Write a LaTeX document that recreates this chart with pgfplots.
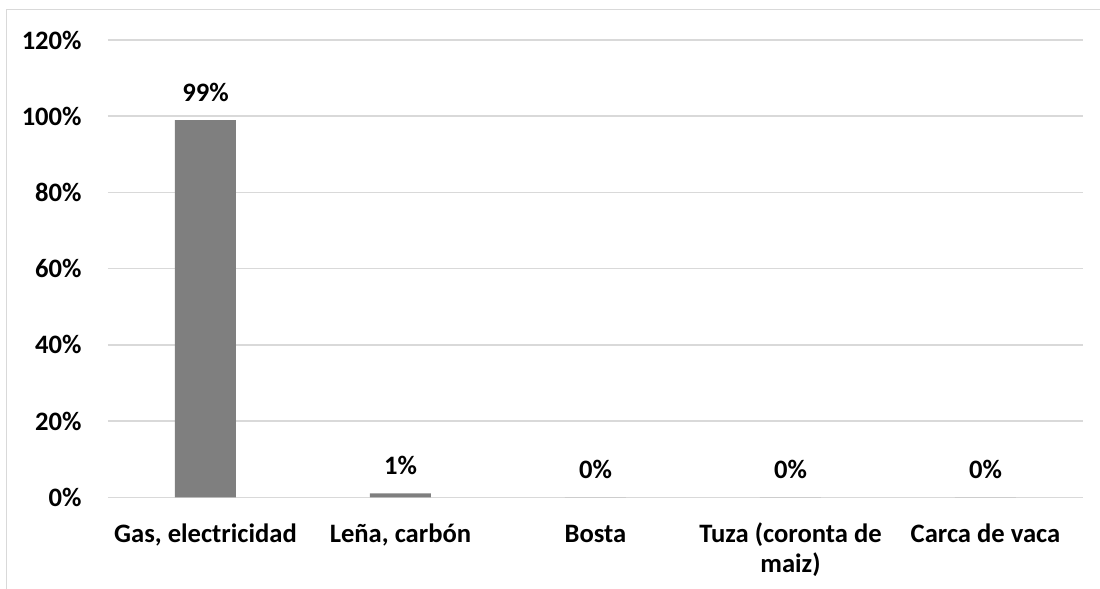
\documentclass[border=0pt]{standalone}
\usepackage{fontspec}
\setmainfont{Carlito}
\usepackage{pgfplots}
\pgfplotsset{compat=1.18}
\definecolor{bargray}{HTML}{7F7F7F}
\definecolor{gridgray}{HTML}{D9D9D9}
\newcommand{\lblfont}{\fontsize{13.3}{15}\selectfont\bfseries}
\begin{document}
\begin{tikzpicture}[x=1pt,y=1pt]
\useasboundingbox (-54,-45.85) rectangle (496,248.65);
\draw[gridgray, line width=0.8pt] (-50.75,-60) -- (-50.75,243.9) -- (510,243.9);
\begin{axis}[
  at={(0,0)}, anchor=south west,
  scale only axis, width=487.5pt, height=228.65pt,
  ymin=0, ymax=120, xmin=-0.5, xmax=4.5,
  axis lines*=left,
  y axis line style={draw=none},
  x axis line style={gridgray, line width=0.75pt},
  major tick length=0pt,
  ymajorgrids, grid style={gridgray, line width=0.75pt},
  ytick={0,20,...,120},
  yticklabel={\pgfmathprintnumber{\tick}\%},
  /pgf/number format/assume math mode=true,
  yticklabel style={font=\lblfont, anchor=east, inner sep=0pt, xshift=-13pt},
  xtick={0,1,2,3,4},
  xticklabels={{\strut Gas, electricidad},{\strut Leña, carbón},\strut Bosta,{\strut Tuza (coronta de\\maiz)},\strut Carca de vaca},
  xticklabel style={font=\lblfont, align=center, anchor=north, inner sep=0pt, yshift=-11.85pt},
  ybar, bar width=30.5pt,
  nodes near coords={\pgfmathprintnumber{\pgfplotspointmeta}\%},
  nodes near coords style={font=\lblfont, anchor=base, inner sep=0pt, yshift=9.5pt},
  clip=false,
]
\addplot[fill=bargray, draw=none] coordinates {(0,99) (1,1) (2,0) (3,0) (4,0)};
\end{axis}
\end{tikzpicture}
\end{document}
